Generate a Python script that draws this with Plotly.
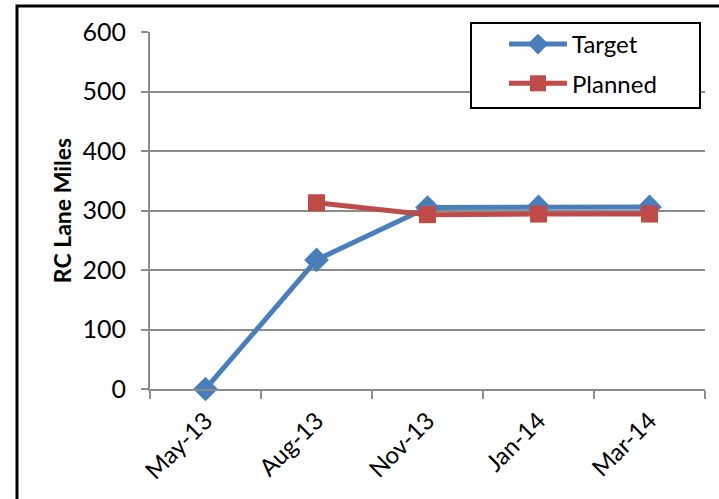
import plotly.graph_objects as go

# Monthly milestones for RC lane miles
months = ["May-13", "Aug-13", "Nov-13", "Jan-14", "Mar-14"]
target = [0, 217, 305, 306, 306]
planned = [None, 313, 293, 294, 294]

BLUE = "#4A7EBB"
RED = "#BE4B48"
GRID = "#8C8C8C"
FONT = "Lato, 'Open Sans', sans-serif"

fig = go.Figure()
fig.add_trace(go.Scatter(
    x=months, y=target, name="Target", mode="lines+markers",
    legendgroup="t", cliponaxis=False,
    line=dict(color=BLUE, width=5),
    marker=dict(symbol="diamond", size=19, color=BLUE),
))
fig.add_trace(go.Scatter(
    x=months, y=planned, name="Planned", mode="lines+markers",
    legendgroup="p", cliponaxis=False,
    line=dict(color=RED, width=5),
    marker=dict(symbol="square", size=17, color=RED),
    connectgaps=False,
))

W, H = 719, 499
L, R, T, B = 150, 14, 32, 110
pw, ph = W - L - R, H - T - B

def px_x(v):
    return (v - L) / pw

def px_y(v):
    return (H - B - v) / ph

fig.update_layout(
    width=W, height=H,
    margin=dict(l=L, r=R, t=T, b=B),
    paper_bgcolor="white", plot_bgcolor="white",
    font=dict(family=FONT, size=22, color="black"),
    showlegend=True,
    legend=dict(
        x=px_x(504), y=px_y(22), xanchor="left", yanchor="top",
        borderwidth=0, bgcolor="rgba(0,0,0,0)",
        font=dict(size=24), itemwidth=58, tracegroupgap=5,
    ),
    xaxis=dict(
        type="category", range=[-0.5, 4.5], tickson="boundaries",
        ticks="outside", ticklen=8, tickcolor=GRID, tickwidth=2,
        showline=True, linecolor=GRID, linewidth=2,
        showgrid=False, tickangle=-45, tickfont=dict(size=24),
        ticklabelstandoff=6,
    ),
    yaxis=dict(
        range=[0, 600], dtick=100, ticks="outside", ticklen=7,
        tickcolor=GRID, tickwidth=2,
        showline=True, linecolor=GRID, linewidth=2,
        showgrid=True, gridcolor=GRID, gridwidth=1.5, zeroline=False,
        tickfont=dict(size=25), ticklabelstandoff=10,
        title=dict(text="<b>RC Lane Miles</b>", font=dict(size=23), standoff=4),
    ),
    shapes=[
        # legend frame
        dict(
            type="rect", xref="paper", yref="paper",
            x0=px_x(471), x1=px_x(700), y0=px_y(108), y1=px_y(23),
            line=dict(color="black", width=2), fillcolor="white",
            layer="above",
        ),
        # outer chart frame
        dict(
            type="rect", xref="paper", yref="paper",
            x0=px_x(17), x1=px_x(730), y0=px_y(510), y1=px_y(6),
            line=dict(color="black", width=3), fillcolor="rgba(0,0,0,0)",
            layer="above",
        ),
    ],
)

fig.write_html("out.html")
